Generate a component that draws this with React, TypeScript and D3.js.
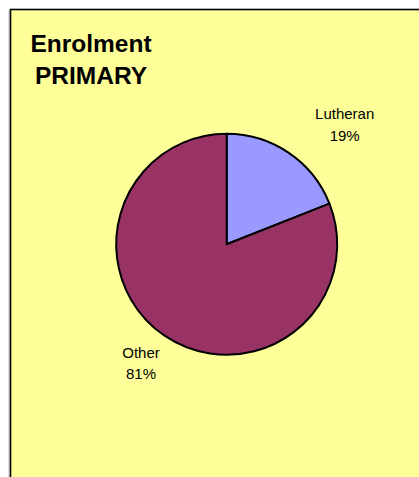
import React from "react";
import * as d3 from "d3";

const categories = ["Lutheran", "Other"];
const values = [19, 81];
const colors = ["#9999FF", "#993366"];
const titleLines = ["Enrolment", "PRIMARY"];

export default function App() {
  const W = 419, H = 477;
  const cx = 226.7, cy = 244.3, r = 110.5;
  const pie = d3.pie<number>().sort(null).startAngle(0).endAngle(2 * Math.PI);
  const arcs = pie(values);
  const arc = d3.arc<d3.PieArcDatum<number>>().innerRadius(0).outerRadius(r);
  const total = d3.sum(values);
  const labelPos = [
    { x: 344.7, y: 119 },
    { x: 141, y: 357.5 },
  ];
  return (
    <svg width={W} height={H} style={{ position: "absolute", left: 0, top: 0 }}
      fontFamily="Liberation Sans, Arial, sans-serif">
      <line x1={9} y1={10} x2={9} y2={H} stroke="#BBBBBB" strokeWidth={1} />
      <rect x={10.5} y={9.5} width={W + 10} height={H + 10} fill="#FFFF99" stroke="#000" strokeWidth={1.6} />
      {titleLines.map((t, i) => (
        <text key={t} x={91} y={51.5 + i * 32} textAnchor="middle" fontWeight="bold" fontSize={24.5} fill="#000">{t}</text>
      ))}
      <g transform={`translate(${cx},${cy})`}>
        {arcs.map((a, i) => (
          <path key={categories[i]} d={arc(a) || ""} fill={colors[i]} stroke="#000" strokeWidth={2} strokeLinejoin="round" />
        ))}
      </g>
      {arcs.map((a, i) => (
        <text key={"l" + i} textAnchor="middle" fontSize={15} fill="#000">
          <tspan x={labelPos[i].x} y={labelPos[i].y}>{categories[i]}</tspan>
          <tspan x={labelPos[i].x} y={labelPos[i].y + 21.7}>{Math.round((a.data / total) * 100)}%</tspan>
        </text>
      ))}
    </svg>
  );
}
